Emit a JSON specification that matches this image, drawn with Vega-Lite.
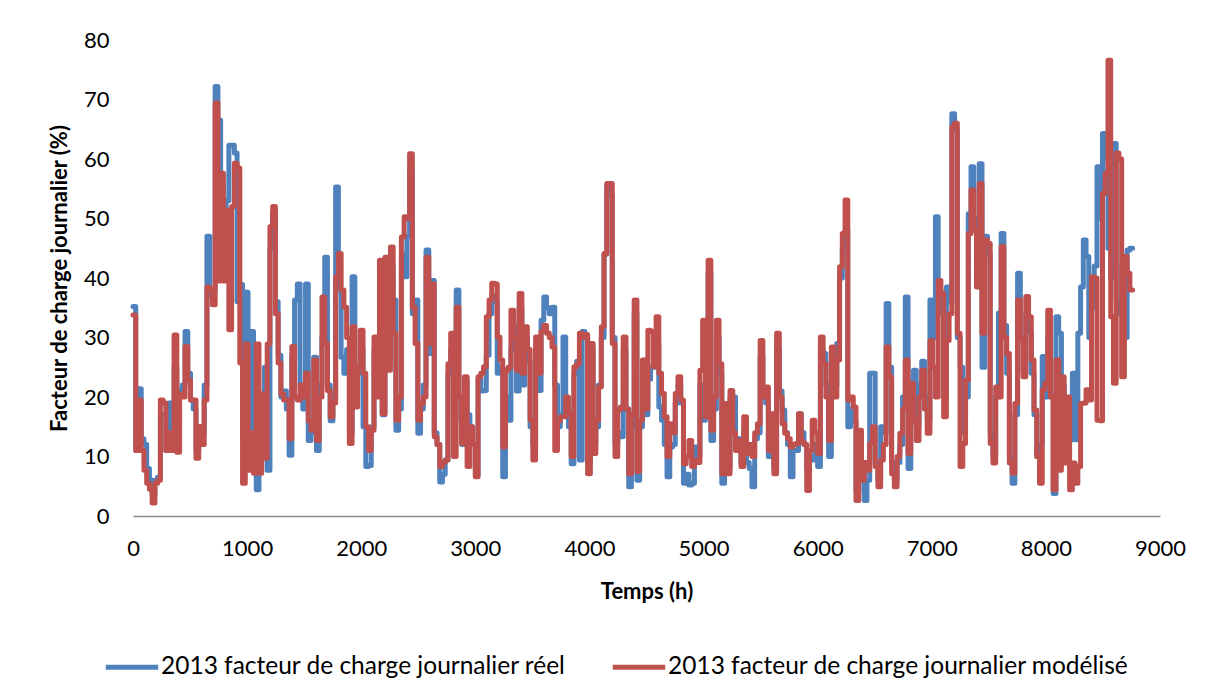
{
"$schema": "https://vega.github.io/schema/vega-lite/v6.json",
"width": 1027, "height": 476,
"autosize": {"type": "none"},
"padding": {"left": 133, "top": 40, "right": 50, "bottom": 180},
"background": "white",
"config": {"view": {"stroke": null}, "font": "Lato"},
"data": {"values": [
{"t":0,"r":35.2,"m":33.8},{"t":24,"r":11,"m":11},{"t":48,"r":21.4,"m":19.5},{"t":72,"r":13,"m":11},{"t":96,"r":12,"m":7.7},{"t":120,"r":8,"m":5.5},{"t":144,"r":6,"m":4.5},{"t":168,"r":3.5,"m":2.2},{"t":192,"r":6,"m":5.5},{"t":216,"r":6.5,"m":6},
{"t":240,"r":17,"m":19.5},{"t":264,"r":17,"m":19},{"t":288,"r":11,"m":11},{"t":312,"r":19,"m":14},{"t":336,"r":12,"m":11},{"t":360,"r":25,"m":30.4},{"t":384,"r":11,"m":10.7},{"t":408,"r":21,"m":20.5},{"t":432,"r":22,"m":20},{"t":456,"r":31,"m":28.5},
{"t":480,"r":24,"m":22.8},{"t":504,"r":19.5,"m":19.5},{"t":528,"r":18,"m":19.5},{"t":552,"r":11,"m":9.7},{"t":576,"r":15,"m":15},{"t":600,"r":14,"m":12},{"t":624,"r":22,"m":19.5},{"t":648,"r":47,"m":38.5},{"t":672,"r":37,"m":38},{"t":696,"r":38,"m":35.5},
{"t":720,"r":72.2,"m":69.4},{"t":744,"r":66.5,"m":39.5},{"t":768,"r":56,"m":57.6},{"t":792,"r":45,"m":39.5},{"t":816,"r":53,"m":51.4},{"t":840,"r":62.3,"m":31.3},{"t":864,"r":62.3,"m":52},{"t":888,"r":61,"m":59.3},{"t":912,"r":36,"m":58.5},{"t":936,"r":38.9,"m":25.7},
{"t":960,"r":14,"m":5.5},{"t":984,"r":37.6,"m":28.9},{"t":1008,"r":10,"m":7.7},{"t":1032,"r":31,"m":14},{"t":1056,"r":12,"m":7.2},{"t":1080,"r":4.4,"m":28.9},{"t":1104,"r":18,"m":7.2},{"t":1128,"r":10,"m":20.5},{"t":1152,"r":25,"m":9.7},{"t":1176,"r":7.7,"m":28.9},
{"t":1200,"r":45,"m":48.6},{"t":1224,"r":51,"m":52},{"t":1248,"r":36,"m":34},{"t":1272,"r":27,"m":25.7},{"t":1296,"r":20,"m":20.5},{"t":1320,"r":21,"m":19.5},{"t":1344,"r":18,"m":19.5},{"t":1368,"r":10.2,"m":13},{"t":1392,"r":27,"m":28.5},{"t":1416,"r":36.3,"m":20},
{"t":1440,"r":39,"m":19.5},{"t":1464,"r":22,"m":22},{"t":1488,"r":18,"m":20},{"t":1512,"r":39,"m":24},{"t":1536,"r":12.7,"m":16},{"t":1560,"r":14,"m":14.4},{"t":1584,"r":26.7,"m":26.2},{"t":1608,"r":11,"m":12.7},{"t":1632,"r":22,"m":20},{"t":1656,"r":30,"m":36.8},
{"t":1680,"r":43.5,"m":29},{"t":1704,"r":22,"m":21.1},{"t":1728,"r":16,"m":16.7},{"t":1752,"r":20,"m":19},{"t":1776,"r":55.3,"m":40.2},{"t":1800,"r":38,"m":44.1},{"t":1824,"r":26.7,"m":38},{"t":1848,"r":24,"m":35.1},{"t":1872,"r":28,"m":30},{"t":1896,"r":14,"m":12.2},
{"t":1920,"r":40.2,"m":31.8},{"t":1944,"r":20,"m":18.3},{"t":1968,"r":24,"m":25},{"t":1992,"r":28,"m":31.2},{"t":2016,"r":15,"m":24},{"t":2040,"r":8.3,"m":15},{"t":2064,"r":8.5,"m":11},{"t":2088,"r":15,"m":14.4},{"t":2112,"r":28,"m":30.1},{"t":2136,"r":22,"m":20},
{"t":2160,"r":41,"m":43},{"t":2184,"r":17,"m":17.2},{"t":2208,"r":40,"m":43.5},{"t":2232,"r":26,"m":24.5},{"t":2256,"r":42,"m":45.2},{"t":2280,"r":36.3,"m":30.7},{"t":2304,"r":14.4,"m":16.1},{"t":2328,"r":18,"m":20},{"t":2352,"r":44,"m":46.9},{"t":2376,"r":40.2,"m":50.3},
{"t":2400,"r":47,"m":50},{"t":2424,"r":58,"m":60.9},{"t":2448,"r":34,"m":35.1},{"t":2472,"r":36.3,"m":29},{"t":2496,"r":13.9,"m":16.1},{"t":2520,"r":18,"m":18.9},{"t":2544,"r":22,"m":20},{"t":2568,"r":44.7,"m":43.5},{"t":2592,"r":27.3,"m":29},{"t":2616,"r":39.6,"m":39},
{"t":2640,"r":14,"m":13.3},{"t":2664,"r":12,"m":12},{"t":2688,"r":5.7,"m":8.3},{"t":2712,"r":7,"m":9},{"t":2736,"r":9.4,"m":9.4},{"t":2760,"r":24,"m":25.6},{"t":2784,"r":28,"m":30.7},{"t":2808,"r":16,"m":10},{"t":2832,"r":38,"m":35.1},{"t":2856,"r":20,"m":20},
{"t":2880,"r":12,"m":12.2},{"t":2904,"r":23,"m":23.4},{"t":2928,"r":17,"m":8.3},{"t":2952,"r":15,"m":15},{"t":2976,"r":12,"m":12},{"t":3000,"r":7,"m":6.6},{"t":3024,"r":23,"m":23.4},{"t":3048,"r":21,"m":24},{"t":3072,"r":21.1,"m":25.1},{"t":3096,"r":27,"m":33.5},
{"t":3120,"r":34,"m":36.3},{"t":3144,"r":37,"m":39.1},{"t":3168,"r":36,"m":39},{"t":3192,"r":24,"m":30.1},{"t":3216,"r":25,"m":26.2},{"t":3240,"r":6.6,"m":11.6},{"t":3264,"r":20,"m":24.5},{"t":3288,"r":16.1,"m":25},{"t":3312,"r":28,"m":34.6},{"t":3336,"r":32,"m":30},
{"t":3360,"r":21,"m":24.5},{"t":3384,"r":35,"m":37.4},{"t":3408,"r":22,"m":24},{"t":3432,"r":30,"m":31.8},{"t":3456,"r":26,"m":28},{"t":3480,"r":15,"m":16.1},{"t":3504,"r":12,"m":9.4},{"t":3528,"r":28,"m":30.1},{"t":3552,"r":21.1,"m":24},{"t":3576,"r":32.9,"m":31},
{"t":3600,"r":36.8,"m":32},{"t":3624,"r":35,"m":30.7},{"t":3648,"r":34,"m":30},{"t":3672,"r":35.1,"m":28.4},{"t":3696,"r":22,"m":11},{"t":3720,"r":15,"m":16},{"t":3744,"r":17,"m":16.7},{"t":3768,"r":30.1,"m":16.7},{"t":3792,"r":18,"m":20},{"t":3816,"r":15,"m":17.2},
{"t":3840,"r":8.8,"m":10},{"t":3864,"r":24,"m":25.1},{"t":3888,"r":26,"m":25.6},{"t":3912,"r":9.4,"m":30.7},{"t":3936,"r":31,"m":30},{"t":3960,"r":30,"m":30.5},{"t":3984,"r":9,"m":7.1},{"t":4008,"r":28,"m":29},{"t":4032,"r":12,"m":10.5},{"t":4056,"r":15,"m":16.1},
{"t":4080,"r":22,"m":21.7},{"t":4104,"r":30,"m":31.8},{"t":4128,"r":44,"m":44.1},{"t":4152,"r":55.5,"m":55.9},{"t":4176,"r":54,"m":55.9},{"t":4200,"r":30,"m":29},{"t":4224,"r":12,"m":10},{"t":4248,"r":14,"m":17.8},{"t":4272,"r":13.3,"m":18.3},{"t":4296,"r":28,"m":30.1},
{"t":4320,"r":18,"m":18},{"t":4344,"r":4.9,"m":7.1},{"t":4368,"r":15,"m":17},{"t":4392,"r":34,"m":36.3},{"t":4416,"r":6,"m":7.5},{"t":4440,"r":15,"m":16.1},{"t":4464,"r":24,"m":26.2},{"t":4488,"r":17,"m":18},{"t":4512,"r":23,"m":31.2},{"t":4536,"r":25,"m":31},
{"t":4560,"r":25,"m":25.1},{"t":4584,"r":29,"m":33.5},{"t":4608,"r":18.3,"m":24},{"t":4632,"r":16.1,"m":20.6},{"t":4656,"r":12,"m":16.7},{"t":4680,"r":6.6,"m":10},{"t":4704,"r":11.6,"m":15.5},{"t":4728,"r":12,"m":14},{"t":4752,"r":19,"m":20.6},{"t":4776,"r":22,"m":23.4},
{"t":4800,"r":19,"m":19.5},{"t":4824,"r":5.5,"m":8.8},{"t":4848,"r":7,"m":10},{"t":4872,"r":5.2,"m":12.7},{"t":4896,"r":5.5,"m":8.3},{"t":4920,"r":11.6,"m":9.4},{"t":4944,"r":10,"m":9},{"t":4968,"r":22,"m":24.5},{"t":4992,"r":16.1,"m":32.9},{"t":5016,"r":18,"m":16.7},
{"t":5040,"r":41,"m":43},{"t":5064,"r":12.7,"m":14.4},{"t":5088,"r":18,"m":20},{"t":5112,"r":30,"m":32.9},{"t":5136,"r":24,"m":25.6},{"t":5160,"r":5.5,"m":7.1},{"t":5184,"r":17,"m":18.9},{"t":5208,"r":8,"m":7.1},{"t":5232,"r":20,"m":21.1},{"t":5256,"r":20,"m":14},
{"t":5280,"r":11.6,"m":11},{"t":5304,"r":13,"m":12.7},{"t":5328,"r":9,"m":8.3},{"t":5352,"r":15,"m":16.7},{"t":5376,"r":9,"m":10.5},{"t":5400,"r":8,"m":12},{"t":5424,"r":4.9,"m":10},{"t":5448,"r":13,"m":14},{"t":5472,"r":14,"m":15.5},{"t":5496,"r":27,"m":29.5},
{"t":5520,"r":20,"m":20},{"t":5544,"r":19,"m":21.7},{"t":5568,"r":10,"m":11},{"t":5592,"r":16,"m":17.2},{"t":5616,"r":8,"m":7.1},{"t":5640,"r":28,"m":30.7},{"t":5664,"r":21,"m":20},{"t":5688,"r":17.8,"m":15.5},{"t":5712,"r":14,"m":13.9},{"t":5736,"r":12,"m":13},
{"t":5760,"r":6.6,"m":11.6},{"t":5784,"r":11,"m":12},{"t":5808,"r":11,"m":12.2},{"t":5832,"r":17.2,"m":17.2},{"t":5856,"r":14,"m":12.5},{"t":5880,"r":12,"m":12},{"t":5904,"r":8,"m":4.3},{"t":5928,"r":10,"m":11},{"t":5952,"r":9.4,"m":16.1},{"t":5976,"r":12,"m":14},
{"t":6000,"r":8.3,"m":10.5},{"t":6024,"r":28,"m":30.1},{"t":6048,"r":27.3,"m":25.6},{"t":6072,"r":22,"m":20},{"t":6096,"r":10,"m":12.7},{"t":6120,"r":26,"m":28.4},{"t":6144,"r":22,"m":20},{"t":6168,"r":29,"m":26.2},{"t":6192,"r":40,"m":41.9},{"t":6216,"r":45,"m":47.5},
{"t":6240,"r":48,"m":53.1},{"t":6264,"r":15,"m":19.5},{"t":6288,"r":18,"m":20},{"t":6312,"r":16,"m":18.3},{"t":6336,"r":4,"m":2.6},{"t":6360,"r":12,"m":14.4},{"t":6384,"r":8,"m":6},{"t":6408,"r":2.6,"m":9},{"t":6432,"r":6,"m":7.7},{"t":6456,"r":24,"m":12.2},
{"t":6480,"r":24,"m":15},{"t":6504,"r":9,"m":8.3},{"t":6528,"r":6,"m":4.9},{"t":6552,"r":15,"m":9.4},{"t":6576,"r":14,"m":12},{"t":6600,"r":35.7,"m":28.4},{"t":6624,"r":25,"m":23.4},{"t":6648,"r":9,"m":7.1},{"t":6672,"r":6,"m":4.9},{"t":6696,"r":9,"m":10},
{"t":6720,"r":12,"m":13.9},{"t":6744,"r":20,"m":18},{"t":6768,"r":36.8,"m":26.2},{"t":6792,"r":8,"m":10.5},{"t":6816,"r":20,"m":22.3},{"t":6840,"r":24.5,"m":16},{"t":6864,"r":15,"m":12.7},{"t":6888,"r":22,"m":20},{"t":6912,"r":26,"m":24.5},{"t":6936,"r":20,"m":18},
{"t":6960,"r":16,"m":13.9},{"t":6984,"r":36.3,"m":29.5},{"t":7008,"r":30,"m":25},{"t":7032,"r":50.3,"m":20},{"t":7056,"r":38,"m":39.6},{"t":7080,"r":34,"m":37.4},{"t":7104,"r":20,"m":16.7},{"t":7128,"r":38.5,"m":29.5},{"t":7152,"r":36,"m":34},{"t":7176,"r":67.6,"m":65.4},
{"t":7200,"r":65,"m":66},{"t":7224,"r":30,"m":30.7},{"t":7248,"r":25,"m":8.3},{"t":7272,"r":14,"m":12.2},{"t":7296,"r":20,"m":22.8},{"t":7320,"r":50.8,"m":47.5},{"t":7344,"r":58.7,"m":54.8},{"t":7368,"r":50,"m":48},{"t":7392,"r":40,"m":38.5},{"t":7416,"r":59.2,"m":55.9},
{"t":7440,"r":25,"m":30.7},{"t":7464,"r":47,"m":46.4},{"t":7488,"r":44,"m":45.8},{"t":7512,"r":14,"m":12.2},{"t":7536,"r":10,"m":8.9},{"t":7560,"r":20,"m":21.7},{"t":7584,"r":34.1,"m":20},{"t":7608,"r":47.5,"m":45.3},{"t":7632,"r":32,"m":30},{"t":7656,"r":24,"m":27.3},
{"t":7680,"r":10,"m":8.9},{"t":7704,"r":5.5,"m":7.2},{"t":7728,"r":17,"m":18.9},{"t":7752,"r":40.8,"m":36.3},{"t":7776,"r":30,"m":29.6},{"t":7800,"r":24,"m":23.4},{"t":7824,"r":34,"m":36.9},{"t":7848,"r":31,"m":33.5},{"t":7872,"r":24,"m":26.2},{"t":7896,"r":17,"m":17.8},
{"t":7920,"r":10,"m":10},{"t":7944,"r":12,"m":5.5},{"t":7968,"r":26.8,"m":21.2},{"t":7992,"r":20,"m":22.3},{"t":8016,"r":30,"m":34.6},{"t":8040,"r":20,"m":20},{"t":8064,"r":3.8,"m":4.4},{"t":8088,"r":33.5,"m":26.2},{"t":8112,"r":30.7,"m":7.7},{"t":8136,"r":22,"m":23.4},
{"t":8160,"r":12,"m":8.9},{"t":8184,"r":16,"m":20},{"t":8208,"r":12.8,"m":4.4},{"t":8232,"r":24,"m":8.9},{"t":8256,"r":12.8,"m":5.5},{"t":8280,"r":30.7,"m":8.3},{"t":8304,"r":38.5,"m":18.9},{"t":8328,"r":46.4,"m":19},{"t":8352,"r":43.6,"m":21.2},{"t":8376,"r":30,"m":19.5},
{"t":8400,"r":35,"m":40.2},{"t":8424,"r":42,"m":40},{"t":8448,"r":58.7,"m":16.1},{"t":8472,"r":50,"m":16},{"t":8496,"r":64.3,"m":54.2},{"t":8520,"r":60,"m":57.6},{"t":8544,"r":45,"m":76.6},{"t":8568,"r":40,"m":33.5},{"t":8592,"r":62.6,"m":22.3},{"t":8616,"r":36,"m":61},
{"t":8640,"r":34,"m":60},{"t":8664,"r":42,"m":23.4},{"t":8688,"r":30,"m":43.6},{"t":8712,"r":44.7,"m":40.8},{"t":8736,"r":45,"m":38},{"t":8760,"r":45,"m":38}
]},
"transform": [{"fold": ["r", "m"], "as": ["s", "v"]}],
"encoding": {
  "x": {"field": "t", "type": "quantitative", "scale": {"domain": [0, 9000], "nice": false, "zero": false},
    "axis": {"values": [0,1000,2000,3000,4000,5000,6000,7000,8000,9000], "format": "d", "labelFlush": false, "title": "Temps (h)", "grid": false, "ticks": false,
      "domainColor": "#8c8c8c", "domainWidth": 1.5, "labelFontSize": 22, "labelColor": "#000000", "labelPadding": 22,
      "titleFontSize": 22, "titleFontWeight": "bold", "titleColor": "#000000", "titlePadding": 22}},
  "y": {"field": "v", "type": "quantitative", "scale": {"domain": [0, 80], "nice": false},
    "axis": {"values": [0,10,20,30,40,50,60,70,80], "labelFlush": false, "title": "Facteur de charge journalier (%)", "grid": false, "ticks": false,
      "domain": false, "labelFontSize": 22, "labelColor": "#000000", "labelPadding": 24,
      "titleFontSize": 22, "titleFontWeight": "bold", "titleColor": "#000000", "titlePadding": 12}},
  "color": {"field": "s", "type": "nominal", "scale": {"domain": ["r", "m"], "range": ["#4F81BD", "#C0504D"]},
    "legend": {"title": null, "orient": "none", "direction": "horizontal", "legendX": -30, "legendY": 598,
      "symbolType": "stroke", "symbolStrokeWidth": 5, "symbolSize": 2750, "labelFontSize": 24.5, "labelColor": "#000000",
      "labelOffset": 0, "columnPadding": 36, "labelLimit": 700,
      "labelExpr": "datum.label == 'r' ? '2013 facteur de charge journalier réel' : '2013 facteur de charge journalier modélisé'"}}
},
"layer": [
  {"transform": [{"filter": "datum.s == 'r'"}],
   "mark": {"type": "line", "interpolate": "step-after", "strokeWidth": 5, "strokeJoin": "round", "strokeCap": "round"}},
  {"transform": [{"filter": "datum.s == 'm'"}],
   "mark": {"type": "line", "interpolate": "step-after", "strokeWidth": 5, "strokeJoin": "round", "strokeCap": "round"}}
]
}
